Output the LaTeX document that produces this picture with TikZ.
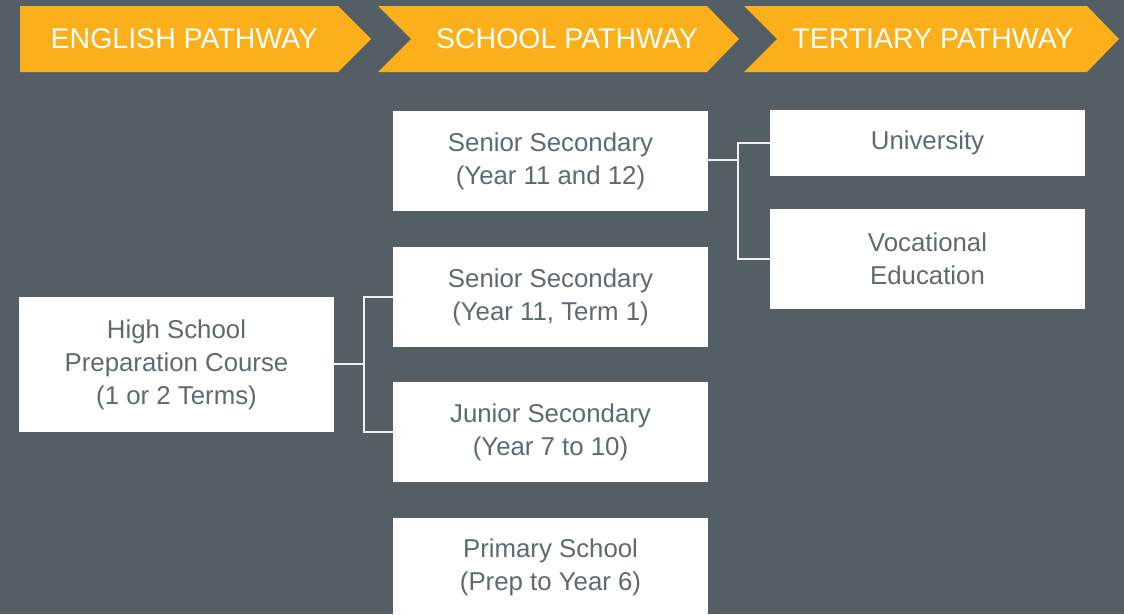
\documentclass[tikz,border=0pt]{standalone}
\usepackage{fontspec}
\setmainfont{Liberation Sans}
\definecolor{bg}{HTML}{535E65}
\definecolor{hdr}{HTML}{FBB01B}
\definecolor{txt}{HTML}{5E6A72}
\definecolor{ln}{HTML}{EEF0F1}
\tikzset{
  box/.style={fill=white, draw=none, inner sep=0pt, align=center, text=txt,
    font=\fontsize{25.8}{33}\selectfont},
  hdrtext/.style={text=white, font=\fontsize{28.5}{30}\selectfont, inner sep=0pt},
  conn/.style={draw=ln, line width=2pt},
}
\begin{document}
\begin{tikzpicture}[x=1pt,y=-1pt]
\fill[bg] (0,0) rectangle (1124,614);
\useasboundingbox (0,0) rectangle (1124,614);
% headers
\fill[hdr] (20,6) -- (338,6) -- (371,39) -- (338,72) -- (20,72) -- cycle;
\fill[hdr] (378,6) -- (707,6) -- (739,39) -- (707,72) -- (378,72) -- (411,39) -- cycle;
\fill[hdr] (744,6) -- (1087,6) -- (1119,39) -- (1087,72) -- (744,72) -- (777,39) -- cycle;
\node[hdrtext] (h1) at (184,38.5) {ENGLISH PATHWAY};
\node[hdrtext] (h2) at (567,38.5) {SCHOOL PATHWAY};
\node[hdrtext] (h3) at (933,38.5) {TERTIARY PATHWAY};
% boxes
\node[box, minimum width=315pt, minimum height=100pt] (ss) at (550.5,161) {Senior Secondary\\(Year 11 and 12)};
\node[box, minimum width=315pt, minimum height=100pt] (st) at (550.5,297) {Senior Secondary\\(Year 11, Term 1)};
\node[box, minimum width=315pt, minimum height=100pt] (js) at (550.5,432) {Junior Secondary\\(Year 7 to 10)};
\fill[white] (393,518) rectangle (708,614);
\node[box, fill=none] (ps) at (550.5,567) {Primary School\\(Prep to Year 6)};
\node[box, minimum width=315pt, minimum height=135pt] (hs) at (176.5,364.5) {High School\\Preparation Course\\(1 or 2 Terms)};
\node[box, minimum width=315pt, minimum height=66pt] (uni) at (927.5,143) {University};
\node[box, minimum width=315pt, minimum height=100pt] (voc) at (927.5,259) {Vocational\\Education};
% connectors
\coordinate (j1) at (364,364);
\draw[conn] (hs.east) ++(0,-0.5) -- (j1);
\draw[conn] (st.west) -| (j1) |- (js.west);
\coordinate (j2) at (738,160);
\draw[conn] (ss.east) ++(0,-1) -- (j2);
\draw[conn] (uni.west) -| (j2) |- (voc.west);
\end{tikzpicture}
\end{document}
